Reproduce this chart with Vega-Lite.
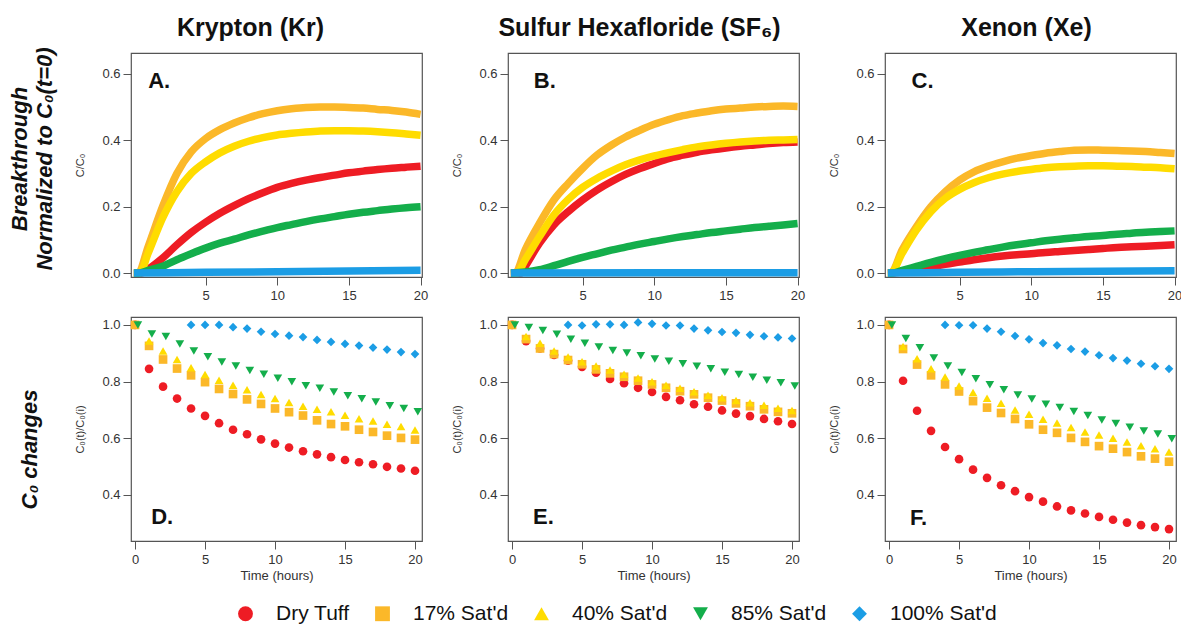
{
"$schema": "https://vega.github.io/schema/vega-lite/v6.json",
"padding": {"left": 9, "top": 15, "right": 0, "bottom": 5},
"background": "white",
"datasets": {
"top": [
{"g":"Kr","s":"Dry Tuff","t":0,"v":0},{"g":"Kr","s":"Dry Tuff","t":0.5,"v":0},{"g":"Kr","s":"Dry Tuff","t":1,"v":0.012},{"g":"Kr","s":"Dry Tuff","t":2,"v":0.045},{"g":"Kr","s":"Dry Tuff","t":3,"v":0.085},{"g":"Kr","s":"Dry Tuff","t":4,"v":0.122},{"g":"Kr","s":"Dry Tuff","t":5,"v":0.153},{"g":"Kr","s":"Dry Tuff","t":6,"v":0.18},{"g":"Kr","s":"Dry Tuff","t":7,"v":0.203},{"g":"Kr","s":"Dry Tuff","t":8,"v":0.224},{"g":"Kr","s":"Dry Tuff","t":9,"v":0.242},{"g":"Kr","s":"Dry Tuff","t":10,"v":0.258},{"g":"Kr","s":"Dry Tuff","t":11,"v":0.27},{"g":"Kr","s":"Dry Tuff","t":12,"v":0.28},{"g":"Kr","s":"Dry Tuff","t":13,"v":0.288},{"g":"Kr","s":"Dry Tuff","t":14,"v":0.295},{"g":"Kr","s":"Dry Tuff","t":15,"v":0.302},{"g":"Kr","s":"Dry Tuff","t":16,"v":0.307},{"g":"Kr","s":"Dry Tuff","t":17,"v":0.312},{"g":"Kr","s":"Dry Tuff","t":18,"v":0.316},{"g":"Kr","s":"Dry Tuff","t":19,"v":0.319},{"g":"Kr","s":"Dry Tuff","t":20,"v":0.322},
{"g":"Kr","s":"17% Sat'd","t":0,"v":0},{"g":"Kr","s":"17% Sat'd","t":0.3,"v":0},{"g":"Kr","s":"17% Sat'd","t":1,"v":0.08},{"g":"Kr","s":"17% Sat'd","t":2,"v":0.2},{"g":"Kr","s":"17% Sat'd","t":3,"v":0.3},{"g":"Kr","s":"17% Sat'd","t":4,"v":0.365},{"g":"Kr","s":"17% Sat'd","t":5,"v":0.405},{"g":"Kr","s":"17% Sat'd","t":6,"v":0.432},{"g":"Kr","s":"17% Sat'd","t":7,"v":0.452},{"g":"Kr","s":"17% Sat'd","t":8,"v":0.468},{"g":"Kr","s":"17% Sat'd","t":9,"v":0.48},{"g":"Kr","s":"17% Sat'd","t":10,"v":0.489},{"g":"Kr","s":"17% Sat'd","t":11,"v":0.495},{"g":"Kr","s":"17% Sat'd","t":12,"v":0.499},{"g":"Kr","s":"17% Sat'd","t":13,"v":0.5},{"g":"Kr","s":"17% Sat'd","t":14,"v":0.5},{"g":"Kr","s":"17% Sat'd","t":15,"v":0.499},{"g":"Kr","s":"17% Sat'd","t":16,"v":0.497},{"g":"Kr","s":"17% Sat'd","t":17,"v":0.493},{"g":"Kr","s":"17% Sat'd","t":18,"v":0.49},{"g":"Kr","s":"17% Sat'd","t":19,"v":0.485},{"g":"Kr","s":"17% Sat'd","t":20,"v":0.478},
{"g":"Kr","s":"40% Sat'd","t":0,"v":0},{"g":"Kr","s":"40% Sat'd","t":0.4,"v":0},{"g":"Kr","s":"40% Sat'd","t":1,"v":0.06},{"g":"Kr","s":"40% Sat'd","t":2,"v":0.165},{"g":"Kr","s":"40% Sat'd","t":3,"v":0.245},{"g":"Kr","s":"40% Sat'd","t":4,"v":0.3},{"g":"Kr","s":"40% Sat'd","t":5,"v":0.335},{"g":"Kr","s":"40% Sat'd","t":6,"v":0.362},{"g":"Kr","s":"40% Sat'd","t":7,"v":0.382},{"g":"Kr","s":"40% Sat'd","t":8,"v":0.397},{"g":"Kr","s":"40% Sat'd","t":9,"v":0.408},{"g":"Kr","s":"40% Sat'd","t":10,"v":0.416},{"g":"Kr","s":"40% Sat'd","t":11,"v":0.421},{"g":"Kr","s":"40% Sat'd","t":12,"v":0.425},{"g":"Kr","s":"40% Sat'd","t":13,"v":0.428},{"g":"Kr","s":"40% Sat'd","t":14,"v":0.429},{"g":"Kr","s":"40% Sat'd","t":15,"v":0.429},{"g":"Kr","s":"40% Sat'd","t":16,"v":0.428},{"g":"Kr","s":"40% Sat'd","t":17,"v":0.426},{"g":"Kr","s":"40% Sat'd","t":18,"v":0.423},{"g":"Kr","s":"40% Sat'd","t":19,"v":0.419},{"g":"Kr","s":"40% Sat'd","t":20,"v":0.415},
{"g":"Kr","s":"85% Sat'd","t":0,"v":0},{"g":"Kr","s":"85% Sat'd","t":0.3,"v":0},{"g":"Kr","s":"85% Sat'd","t":1,"v":0.008},{"g":"Kr","s":"85% Sat'd","t":2,"v":0.02},{"g":"Kr","s":"85% Sat'd","t":3,"v":0.04},{"g":"Kr","s":"85% Sat'd","t":4,"v":0.058},{"g":"Kr","s":"85% Sat'd","t":5,"v":0.075},{"g":"Kr","s":"85% Sat'd","t":6,"v":0.09},{"g":"Kr","s":"85% Sat'd","t":7,"v":0.102},{"g":"Kr","s":"85% Sat'd","t":8,"v":0.115},{"g":"Kr","s":"85% Sat'd","t":9,"v":0.126},{"g":"Kr","s":"85% Sat'd","t":10,"v":0.137},{"g":"Kr","s":"85% Sat'd","t":11,"v":0.146},{"g":"Kr","s":"85% Sat'd","t":12,"v":0.155},{"g":"Kr","s":"85% Sat'd","t":13,"v":0.163},{"g":"Kr","s":"85% Sat'd","t":14,"v":0.17},{"g":"Kr","s":"85% Sat'd","t":15,"v":0.177},{"g":"Kr","s":"85% Sat'd","t":16,"v":0.183},{"g":"Kr","s":"85% Sat'd","t":17,"v":0.188},{"g":"Kr","s":"85% Sat'd","t":18,"v":0.193},{"g":"Kr","s":"85% Sat'd","t":19,"v":0.197},{"g":"Kr","s":"85% Sat'd","t":20,"v":0.2},
{"g":"Kr","s":"100% Sat'd","t":0,"v":0},{"g":"Kr","s":"100% Sat'd","t":5,"v":0.002},{"g":"Kr","s":"100% Sat'd","t":10,"v":0.004},{"g":"Kr","s":"100% Sat'd","t":15,"v":0.006},{"g":"Kr","s":"100% Sat'd","t":20,"v":0.008},

{"g":"SF6","s":"Dry Tuff","t":0,"v":0},{"g":"SF6","s":"Dry Tuff","t":0.7,"v":0},{"g":"SF6","s":"Dry Tuff","t":1,"v":0.02},{"g":"SF6","s":"Dry Tuff","t":2,"v":0.09},{"g":"SF6","s":"Dry Tuff","t":3,"v":0.145},{"g":"SF6","s":"Dry Tuff","t":4,"v":0.185},{"g":"SF6","s":"Dry Tuff","t":5,"v":0.22},{"g":"SF6","s":"Dry Tuff","t":6,"v":0.25},{"g":"SF6","s":"Dry Tuff","t":7,"v":0.275},{"g":"SF6","s":"Dry Tuff","t":8,"v":0.297},{"g":"SF6","s":"Dry Tuff","t":9,"v":0.315},{"g":"SF6","s":"Dry Tuff","t":10,"v":0.33},{"g":"SF6","s":"Dry Tuff","t":11,"v":0.345},{"g":"SF6","s":"Dry Tuff","t":12,"v":0.355},{"g":"SF6","s":"Dry Tuff","t":13,"v":0.364},{"g":"SF6","s":"Dry Tuff","t":14,"v":0.371},{"g":"SF6","s":"Dry Tuff","t":15,"v":0.377},{"g":"SF6","s":"Dry Tuff","t":16,"v":0.382},{"g":"SF6","s":"Dry Tuff","t":17,"v":0.386},{"g":"SF6","s":"Dry Tuff","t":18,"v":0.39},{"g":"SF6","s":"Dry Tuff","t":19,"v":0.393},{"g":"SF6","s":"Dry Tuff","t":20,"v":0.395},
{"g":"SF6","s":"17% Sat'd","t":0,"v":0},{"g":"SF6","s":"17% Sat'd","t":0.3,"v":0},{"g":"SF6","s":"17% Sat'd","t":1,"v":0.07},{"g":"SF6","s":"17% Sat'd","t":2,"v":0.15},{"g":"SF6","s":"17% Sat'd","t":3,"v":0.22},{"g":"SF6","s":"17% Sat'd","t":4,"v":0.27},{"g":"SF6","s":"17% Sat'd","t":5,"v":0.315},{"g":"SF6","s":"17% Sat'd","t":6,"v":0.355},{"g":"SF6","s":"17% Sat'd","t":7,"v":0.385},{"g":"SF6","s":"17% Sat'd","t":8,"v":0.41},{"g":"SF6","s":"17% Sat'd","t":9,"v":0.43},{"g":"SF6","s":"17% Sat'd","t":10,"v":0.448},{"g":"SF6","s":"17% Sat'd","t":11,"v":0.462},{"g":"SF6","s":"17% Sat'd","t":12,"v":0.474},{"g":"SF6","s":"17% Sat'd","t":13,"v":0.482},{"g":"SF6","s":"17% Sat'd","t":14,"v":0.489},{"g":"SF6","s":"17% Sat'd","t":15,"v":0.494},{"g":"SF6","s":"17% Sat'd","t":16,"v":0.497},{"g":"SF6","s":"17% Sat'd","t":17,"v":0.5},{"g":"SF6","s":"17% Sat'd","t":18,"v":0.502},{"g":"SF6","s":"17% Sat'd","t":19,"v":0.503},{"g":"SF6","s":"17% Sat'd","t":20,"v":0.502},
{"g":"SF6","s":"40% Sat'd","t":0,"v":0},{"g":"SF6","s":"40% Sat'd","t":0.4,"v":0},{"g":"SF6","s":"40% Sat'd","t":1,"v":0.04},{"g":"SF6","s":"40% Sat'd","t":2,"v":0.11},{"g":"SF6","s":"40% Sat'd","t":3,"v":0.175},{"g":"SF6","s":"40% Sat'd","t":4,"v":0.222},{"g":"SF6","s":"40% Sat'd","t":5,"v":0.258},{"g":"SF6","s":"40% Sat'd","t":6,"v":0.285},{"g":"SF6","s":"40% Sat'd","t":7,"v":0.307},{"g":"SF6","s":"40% Sat'd","t":8,"v":0.326},{"g":"SF6","s":"40% Sat'd","t":9,"v":0.341},{"g":"SF6","s":"40% Sat'd","t":10,"v":0.353},{"g":"SF6","s":"40% Sat'd","t":11,"v":0.363},{"g":"SF6","s":"40% Sat'd","t":12,"v":0.372},{"g":"SF6","s":"40% Sat'd","t":13,"v":0.38},{"g":"SF6","s":"40% Sat'd","t":14,"v":0.386},{"g":"SF6","s":"40% Sat'd","t":15,"v":0.391},{"g":"SF6","s":"40% Sat'd","t":16,"v":0.395},{"g":"SF6","s":"40% Sat'd","t":17,"v":0.398},{"g":"SF6","s":"40% Sat'd","t":18,"v":0.4},{"g":"SF6","s":"40% Sat'd","t":19,"v":0.401},{"g":"SF6","s":"40% Sat'd","t":20,"v":0.402},
{"g":"SF6","s":"85% Sat'd","t":0,"v":0},{"g":"SF6","s":"85% Sat'd","t":1,"v":0.003},{"g":"SF6","s":"85% Sat'd","t":2,"v":0.01},{"g":"SF6","s":"85% Sat'd","t":3,"v":0.022},{"g":"SF6","s":"85% Sat'd","t":4,"v":0.035},{"g":"SF6","s":"85% Sat'd","t":5,"v":0.047},{"g":"SF6","s":"85% Sat'd","t":6,"v":0.058},{"g":"SF6","s":"85% Sat'd","t":7,"v":0.069},{"g":"SF6","s":"85% Sat'd","t":8,"v":0.078},{"g":"SF6","s":"85% Sat'd","t":9,"v":0.087},{"g":"SF6","s":"85% Sat'd","t":10,"v":0.095},{"g":"SF6","s":"85% Sat'd","t":11,"v":0.103},{"g":"SF6","s":"85% Sat'd","t":12,"v":0.11},{"g":"SF6","s":"85% Sat'd","t":13,"v":0.116},{"g":"SF6","s":"85% Sat'd","t":14,"v":0.122},{"g":"SF6","s":"85% Sat'd","t":15,"v":0.127},{"g":"SF6","s":"85% Sat'd","t":16,"v":0.132},{"g":"SF6","s":"85% Sat'd","t":17,"v":0.137},{"g":"SF6","s":"85% Sat'd","t":18,"v":0.141},{"g":"SF6","s":"85% Sat'd","t":19,"v":0.145},{"g":"SF6","s":"85% Sat'd","t":20,"v":0.149},
{"g":"SF6","s":"100% Sat'd","t":0,"v":0},{"g":"SF6","s":"100% Sat'd","t":10,"v":0.001},{"g":"SF6","s":"100% Sat'd","t":20,"v":0.001},

{"g":"Xe","s":"Dry Tuff","t":0,"v":0},{"g":"Xe","s":"Dry Tuff","t":1,"v":0.003},{"g":"Xe","s":"Dry Tuff","t":2,"v":0.01},{"g":"Xe","s":"Dry Tuff","t":3,"v":0.018},{"g":"Xe","s":"Dry Tuff","t":4,"v":0.026},{"g":"Xe","s":"Dry Tuff","t":5,"v":0.033},{"g":"Xe","s":"Dry Tuff","t":6,"v":0.04},{"g":"Xe","s":"Dry Tuff","t":7,"v":0.046},{"g":"Xe","s":"Dry Tuff","t":8,"v":0.051},{"g":"Xe","s":"Dry Tuff","t":9,"v":0.055},{"g":"Xe","s":"Dry Tuff","t":10,"v":0.058},{"g":"Xe","s":"Dry Tuff","t":11,"v":0.062},{"g":"Xe","s":"Dry Tuff","t":12,"v":0.065},{"g":"Xe","s":"Dry Tuff","t":13,"v":0.068},{"g":"Xe","s":"Dry Tuff","t":14,"v":0.071},{"g":"Xe","s":"Dry Tuff","t":15,"v":0.074},{"g":"Xe","s":"Dry Tuff","t":16,"v":0.077},{"g":"Xe","s":"Dry Tuff","t":17,"v":0.079},{"g":"Xe","s":"Dry Tuff","t":18,"v":0.081},{"g":"Xe","s":"Dry Tuff","t":19,"v":0.083},{"g":"Xe","s":"Dry Tuff","t":20,"v":0.085},
{"g":"Xe","s":"17% Sat'd","t":0,"v":0},{"g":"Xe","s":"17% Sat'd","t":0.2,"v":0},{"g":"Xe","s":"17% Sat'd","t":1,"v":0.07},{"g":"Xe","s":"17% Sat'd","t":2,"v":0.14},{"g":"Xe","s":"17% Sat'd","t":3,"v":0.2},{"g":"Xe","s":"17% Sat'd","t":4,"v":0.245},{"g":"Xe","s":"17% Sat'd","t":5,"v":0.28},{"g":"Xe","s":"17% Sat'd","t":6,"v":0.305},{"g":"Xe","s":"17% Sat'd","t":7,"v":0.322},{"g":"Xe","s":"17% Sat'd","t":8,"v":0.335},{"g":"Xe","s":"17% Sat'd","t":9,"v":0.346},{"g":"Xe","s":"17% Sat'd","t":10,"v":0.354},{"g":"Xe","s":"17% Sat'd","t":11,"v":0.361},{"g":"Xe","s":"17% Sat'd","t":12,"v":0.366},{"g":"Xe","s":"17% Sat'd","t":13,"v":0.37},{"g":"Xe","s":"17% Sat'd","t":14,"v":0.371},{"g":"Xe","s":"17% Sat'd","t":15,"v":0.37},{"g":"Xe","s":"17% Sat'd","t":16,"v":0.369},{"g":"Xe","s":"17% Sat'd","t":17,"v":0.368},{"g":"Xe","s":"17% Sat'd","t":18,"v":0.366},{"g":"Xe","s":"17% Sat'd","t":19,"v":0.363},{"g":"Xe","s":"17% Sat'd","t":20,"v":0.36},
{"g":"Xe","s":"40% Sat'd","t":0,"v":0},{"g":"Xe","s":"40% Sat'd","t":0.2,"v":0},{"g":"Xe","s":"40% Sat'd","t":1,"v":0.06},{"g":"Xe","s":"40% Sat'd","t":2,"v":0.13},{"g":"Xe","s":"40% Sat'd","t":3,"v":0.185},{"g":"Xe","s":"40% Sat'd","t":4,"v":0.225},{"g":"Xe","s":"40% Sat'd","t":5,"v":0.252},{"g":"Xe","s":"40% Sat'd","t":6,"v":0.272},{"g":"Xe","s":"40% Sat'd","t":7,"v":0.287},{"g":"Xe","s":"40% Sat'd","t":8,"v":0.298},{"g":"Xe","s":"40% Sat'd","t":9,"v":0.306},{"g":"Xe","s":"40% Sat'd","t":10,"v":0.312},{"g":"Xe","s":"40% Sat'd","t":11,"v":0.317},{"g":"Xe","s":"40% Sat'd","t":12,"v":0.32},{"g":"Xe","s":"40% Sat'd","t":13,"v":0.322},{"g":"Xe","s":"40% Sat'd","t":14,"v":0.323},{"g":"Xe","s":"40% Sat'd","t":15,"v":0.323},{"g":"Xe","s":"40% Sat'd","t":16,"v":0.322},{"g":"Xe","s":"40% Sat'd","t":17,"v":0.321},{"g":"Xe","s":"40% Sat'd","t":18,"v":0.319},{"g":"Xe","s":"40% Sat'd","t":19,"v":0.317},{"g":"Xe","s":"40% Sat'd","t":20,"v":0.314},
{"g":"Xe","s":"85% Sat'd","t":0,"v":0},{"g":"Xe","s":"85% Sat'd","t":0.3,"v":0},{"g":"Xe","s":"85% Sat'd","t":1,"v":0.008},{"g":"Xe","s":"85% Sat'd","t":2,"v":0.02},{"g":"Xe","s":"85% Sat'd","t":3,"v":0.032},{"g":"Xe","s":"85% Sat'd","t":4,"v":0.043},{"g":"Xe","s":"85% Sat'd","t":5,"v":0.053},{"g":"Xe","s":"85% Sat'd","t":6,"v":0.062},{"g":"Xe","s":"85% Sat'd","t":7,"v":0.07},{"g":"Xe","s":"85% Sat'd","t":8,"v":0.078},{"g":"Xe","s":"85% Sat'd","t":9,"v":0.085},{"g":"Xe","s":"85% Sat'd","t":10,"v":0.091},{"g":"Xe","s":"85% Sat'd","t":11,"v":0.097},{"g":"Xe","s":"85% Sat'd","t":12,"v":0.102},{"g":"Xe","s":"85% Sat'd","t":13,"v":0.106},{"g":"Xe","s":"85% Sat'd","t":14,"v":0.11},{"g":"Xe","s":"85% Sat'd","t":15,"v":0.113},{"g":"Xe","s":"85% Sat'd","t":16,"v":0.117},{"g":"Xe","s":"85% Sat'd","t":17,"v":0.12},{"g":"Xe","s":"85% Sat'd","t":18,"v":0.123},{"g":"Xe","s":"85% Sat'd","t":19,"v":0.125},{"g":"Xe","s":"85% Sat'd","t":20,"v":0.127},
{"g":"Xe","s":"100% Sat'd","t":0,"v":0},{"g":"Xe","s":"100% Sat'd","t":5,"v":0.002},{"g":"Xe","s":"100% Sat'd","t":10,"v":0.004},{"g":"Xe","s":"100% Sat'd","t":15,"v":0.005},{"g":"Xe","s":"100% Sat'd","t":20,"v":0.007}
],
"bot": [
{"g":"Kr","s":"Dry Tuff","t":0,"v":1.0},{"g":"Kr","s":"Dry Tuff","t":1,"v":0.845},{"g":"Kr","s":"Dry Tuff","t":2,"v":0.782},{"g":"Kr","s":"Dry Tuff","t":3,"v":0.74},{"g":"Kr","s":"Dry Tuff","t":4,"v":0.705},{"g":"Kr","s":"Dry Tuff","t":5,"v":0.679},{"g":"Kr","s":"Dry Tuff","t":6,"v":0.653},{"g":"Kr","s":"Dry Tuff","t":7,"v":0.63},{"g":"Kr","s":"Dry Tuff","t":8,"v":0.614},{"g":"Kr","s":"Dry Tuff","t":9,"v":0.596},{"g":"Kr","s":"Dry Tuff","t":10,"v":0.581},{"g":"Kr","s":"Dry Tuff","t":11,"v":0.567},{"g":"Kr","s":"Dry Tuff","t":12,"v":0.554},{"g":"Kr","s":"Dry Tuff","t":13,"v":0.543},{"g":"Kr","s":"Dry Tuff","t":14,"v":0.533},{"g":"Kr","s":"Dry Tuff","t":15,"v":0.523},{"g":"Kr","s":"Dry Tuff","t":16,"v":0.515},{"g":"Kr","s":"Dry Tuff","t":17,"v":0.508},{"g":"Kr","s":"Dry Tuff","t":18,"v":0.499},{"g":"Kr","s":"Dry Tuff","t":19,"v":0.493},{"g":"Kr","s":"Dry Tuff","t":20,"v":0.485},
{"g":"Kr","s":"17% Sat'd","t":0,"v":1.0},{"g":"Kr","s":"17% Sat'd","t":1,"v":0.926},{"g":"Kr","s":"17% Sat'd","t":2,"v":0.878},{"g":"Kr","s":"17% Sat'd","t":3,"v":0.846},{"g":"Kr","s":"17% Sat'd","t":4,"v":0.822},{"g":"Kr","s":"17% Sat'd","t":5,"v":0.798},{"g":"Kr","s":"17% Sat'd","t":6,"v":0.774},{"g":"Kr","s":"17% Sat'd","t":7,"v":0.756},{"g":"Kr","s":"17% Sat'd","t":8,"v":0.737},{"g":"Kr","s":"17% Sat'd","t":9,"v":0.721},{"g":"Kr","s":"17% Sat'd","t":10,"v":0.705},{"g":"Kr","s":"17% Sat'd","t":11,"v":0.692},{"g":"Kr","s":"17% Sat'd","t":12,"v":0.68},{"g":"Kr","s":"17% Sat'd","t":13,"v":0.663},{"g":"Kr","s":"17% Sat'd","t":14,"v":0.65},{"g":"Kr","s":"17% Sat'd","t":15,"v":0.642},{"g":"Kr","s":"17% Sat'd","t":16,"v":0.63},{"g":"Kr","s":"17% Sat'd","t":17,"v":0.622},{"g":"Kr","s":"17% Sat'd","t":18,"v":0.609},{"g":"Kr","s":"17% Sat'd","t":19,"v":0.601},{"g":"Kr","s":"17% Sat'd","t":20,"v":0.595},
{"g":"Kr","s":"40% Sat'd","t":1,"v":0.943},{"g":"Kr","s":"40% Sat'd","t":2,"v":0.908},{"g":"Kr","s":"40% Sat'd","t":3,"v":0.878},{"g":"Kr","s":"40% Sat'd","t":4,"v":0.849},{"g":"Kr","s":"40% Sat'd","t":5,"v":0.825},{"g":"Kr","s":"40% Sat'd","t":6,"v":0.805},{"g":"Kr","s":"40% Sat'd","t":7,"v":0.787},{"g":"Kr","s":"40% Sat'd","t":8,"v":0.771},{"g":"Kr","s":"40% Sat'd","t":9,"v":0.754},{"g":"Kr","s":"40% Sat'd","t":10,"v":0.74},{"g":"Kr","s":"40% Sat'd","t":11,"v":0.726},{"g":"Kr","s":"40% Sat'd","t":12,"v":0.713},{"g":"Kr","s":"40% Sat'd","t":13,"v":0.702},{"g":"Kr","s":"40% Sat'd","t":14,"v":0.693},{"g":"Kr","s":"40% Sat'd","t":15,"v":0.681},{"g":"Kr","s":"40% Sat'd","t":16,"v":0.669},{"g":"Kr","s":"40% Sat'd","t":17,"v":0.661},{"g":"Kr","s":"40% Sat'd","t":18,"v":0.649},{"g":"Kr","s":"40% Sat'd","t":19,"v":0.641},{"g":"Kr","s":"40% Sat'd","t":20,"v":0.629},
{"g":"Kr","s":"85% Sat'd","t":0.2,"v":1.0},{"g":"Kr","s":"85% Sat'd","t":1.2,"v":0.968},{"g":"Kr","s":"85% Sat'd","t":2.2,"v":0.959},{"g":"Kr","s":"85% Sat'd","t":3.2,"v":0.933},{"g":"Kr","s":"85% Sat'd","t":4.2,"v":0.908},{"g":"Kr","s":"85% Sat'd","t":5.2,"v":0.888},{"g":"Kr","s":"85% Sat'd","t":6.2,"v":0.869},{"g":"Kr","s":"85% Sat'd","t":7.2,"v":0.855},{"g":"Kr","s":"85% Sat'd","t":8.2,"v":0.839},{"g":"Kr","s":"85% Sat'd","t":9.2,"v":0.826},{"g":"Kr","s":"85% Sat'd","t":10.2,"v":0.812},{"g":"Kr","s":"85% Sat'd","t":11.2,"v":0.799},{"g":"Kr","s":"85% Sat'd","t":12.2,"v":0.785},{"g":"Kr","s":"85% Sat'd","t":13.2,"v":0.776},{"g":"Kr","s":"85% Sat'd","t":14.2,"v":0.763},{"g":"Kr","s":"85% Sat'd","t":15.2,"v":0.75},{"g":"Kr","s":"85% Sat'd","t":16.2,"v":0.739},{"g":"Kr","s":"85% Sat'd","t":17.2,"v":0.728},{"g":"Kr","s":"85% Sat'd","t":18.2,"v":0.715},{"g":"Kr","s":"85% Sat'd","t":19.2,"v":0.705},{"g":"Kr","s":"85% Sat'd","t":20.2,"v":0.693},
{"g":"Kr","s":"100% Sat'd","t":4,"v":1.0},{"g":"Kr","s":"100% Sat'd","t":5,"v":1.0},{"g":"Kr","s":"100% Sat'd","t":6,"v":1.0},{"g":"Kr","s":"100% Sat'd","t":7,"v":0.992},{"g":"Kr","s":"100% Sat'd","t":8,"v":0.987},{"g":"Kr","s":"100% Sat'd","t":9,"v":0.976},{"g":"Kr","s":"100% Sat'd","t":10,"v":0.968},{"g":"Kr","s":"100% Sat'd","t":11,"v":0.962},{"g":"Kr","s":"100% Sat'd","t":12,"v":0.957},{"g":"Kr","s":"100% Sat'd","t":13,"v":0.947},{"g":"Kr","s":"100% Sat'd","t":14,"v":0.94},{"g":"Kr","s":"100% Sat'd","t":15,"v":0.933},{"g":"Kr","s":"100% Sat'd","t":16,"v":0.927},{"g":"Kr","s":"100% Sat'd","t":17,"v":0.92},{"g":"Kr","s":"100% Sat'd","t":18,"v":0.913},{"g":"Kr","s":"100% Sat'd","t":19,"v":0.904},{"g":"Kr","s":"100% Sat'd","t":20,"v":0.897},

{"g":"SF6","s":"Dry Tuff","t":0,"v":1.0},{"g":"SF6","s":"Dry Tuff","t":1,"v":0.943},{"g":"SF6","s":"Dry Tuff","t":2,"v":0.917},{"g":"SF6","s":"Dry Tuff","t":3,"v":0.894},{"g":"SF6","s":"Dry Tuff","t":4,"v":0.874},{"g":"SF6","s":"Dry Tuff","t":5,"v":0.852},{"g":"SF6","s":"Dry Tuff","t":6,"v":0.831},{"g":"SF6","s":"Dry Tuff","t":7,"v":0.809},{"g":"SF6","s":"Dry Tuff","t":8,"v":0.794},{"g":"SF6","s":"Dry Tuff","t":9,"v":0.778},{"g":"SF6","s":"Dry Tuff","t":10,"v":0.763},{"g":"SF6","s":"Dry Tuff","t":11,"v":0.746},{"g":"SF6","s":"Dry Tuff","t":12,"v":0.734},{"g":"SF6","s":"Dry Tuff","t":13,"v":0.72},{"g":"SF6","s":"Dry Tuff","t":14,"v":0.711},{"g":"SF6","s":"Dry Tuff","t":15,"v":0.698},{"g":"SF6","s":"Dry Tuff","t":16,"v":0.687},{"g":"SF6","s":"Dry Tuff","t":17,"v":0.678},{"g":"SF6","s":"Dry Tuff","t":18,"v":0.668},{"g":"SF6","s":"Dry Tuff","t":19,"v":0.66},{"g":"SF6","s":"Dry Tuff","t":20,"v":0.65},
{"g":"SF6","s":"17% Sat'd","t":0,"v":1.0},{"g":"SF6","s":"17% Sat'd","t":1,"v":0.95},{"g":"SF6","s":"17% Sat'd","t":2,"v":0.917},{"g":"SF6","s":"17% Sat'd","t":3,"v":0.897},{"g":"SF6","s":"17% Sat'd","t":4,"v":0.876},{"g":"SF6","s":"17% Sat'd","t":5,"v":0.861},{"g":"SF6","s":"17% Sat'd","t":6,"v":0.843},{"g":"SF6","s":"17% Sat'd","t":7,"v":0.829},{"g":"SF6","s":"17% Sat'd","t":8,"v":0.817},{"g":"SF6","s":"17% Sat'd","t":9,"v":0.803},{"g":"SF6","s":"17% Sat'd","t":10,"v":0.79},{"g":"SF6","s":"17% Sat'd","t":11,"v":0.778},{"g":"SF6","s":"17% Sat'd","t":12,"v":0.766},{"g":"SF6","s":"17% Sat'd","t":13,"v":0.755},{"g":"SF6","s":"17% Sat'd","t":14,"v":0.743},{"g":"SF6","s":"17% Sat'd","t":15,"v":0.733},{"g":"SF6","s":"17% Sat'd","t":16,"v":0.723},{"g":"SF6","s":"17% Sat'd","t":17,"v":0.713},{"g":"SF6","s":"17% Sat'd","t":18,"v":0.702},{"g":"SF6","s":"17% Sat'd","t":19,"v":0.693},{"g":"SF6","s":"17% Sat'd","t":20,"v":0.688},
{"g":"SF6","s":"40% Sat'd","t":1,"v":0.959},{"g":"SF6","s":"40% Sat'd","t":2,"v":0.935},{"g":"SF6","s":"40% Sat'd","t":3,"v":0.908},{"g":"SF6","s":"40% Sat'd","t":4,"v":0.887},{"g":"SF6","s":"40% Sat'd","t":5,"v":0.87},{"g":"SF6","s":"40% Sat'd","t":6,"v":0.855},{"g":"SF6","s":"40% Sat'd","t":7,"v":0.841},{"g":"SF6","s":"40% Sat'd","t":8,"v":0.826},{"g":"SF6","s":"40% Sat'd","t":9,"v":0.813},{"g":"SF6","s":"40% Sat'd","t":10,"v":0.799},{"g":"SF6","s":"40% Sat'd","t":11,"v":0.787},{"g":"SF6","s":"40% Sat'd","t":12,"v":0.776},{"g":"SF6","s":"40% Sat'd","t":13,"v":0.764},{"g":"SF6","s":"40% Sat'd","t":14,"v":0.752},{"g":"SF6","s":"40% Sat'd","t":15,"v":0.743},{"g":"SF6","s":"40% Sat'd","t":16,"v":0.733},{"g":"SF6","s":"40% Sat'd","t":17,"v":0.725},{"g":"SF6","s":"40% Sat'd","t":18,"v":0.716},{"g":"SF6","s":"40% Sat'd","t":19,"v":0.706},{"g":"SF6","s":"40% Sat'd","t":20,"v":0.698},
{"g":"SF6","s":"85% Sat'd","t":0.2,"v":1.0},{"g":"SF6","s":"85% Sat'd","t":1.2,"v":0.991},{"g":"SF6","s":"85% Sat'd","t":2.2,"v":0.98},{"g":"SF6","s":"85% Sat'd","t":3.2,"v":0.967},{"g":"SF6","s":"85% Sat'd","t":4.2,"v":0.949},{"g":"SF6","s":"85% Sat'd","t":5.2,"v":0.935},{"g":"SF6","s":"85% Sat'd","t":6.2,"v":0.922},{"g":"SF6","s":"85% Sat'd","t":7.2,"v":0.91},{"g":"SF6","s":"85% Sat'd","t":8.2,"v":0.901},{"g":"SF6","s":"85% Sat'd","t":9.2,"v":0.891},{"g":"SF6","s":"85% Sat'd","t":10.2,"v":0.88},{"g":"SF6","s":"85% Sat'd","t":11.2,"v":0.872},{"g":"SF6","s":"85% Sat'd","t":12.2,"v":0.863},{"g":"SF6","s":"85% Sat'd","t":13.2,"v":0.854},{"g":"SF6","s":"85% Sat'd","t":14.2,"v":0.845},{"g":"SF6","s":"85% Sat'd","t":15.2,"v":0.833},{"g":"SF6","s":"85% Sat'd","t":16.2,"v":0.825},{"g":"SF6","s":"85% Sat'd","t":17.2,"v":0.815},{"g":"SF6","s":"85% Sat'd","t":18.2,"v":0.805},{"g":"SF6","s":"85% Sat'd","t":19.2,"v":0.796},{"g":"SF6","s":"85% Sat'd","t":20.2,"v":0.784},
{"g":"SF6","s":"100% Sat'd","t":4,"v":1.0},{"g":"SF6","s":"100% Sat'd","t":5,"v":0.998},{"g":"SF6","s":"100% Sat'd","t":6,"v":1.002},{"g":"SF6","s":"100% Sat'd","t":7,"v":1.002},{"g":"SF6","s":"100% Sat'd","t":8,"v":1.0},{"g":"SF6","s":"100% Sat'd","t":9,"v":1.009},{"g":"SF6","s":"100% Sat'd","t":10,"v":1.004},{"g":"SF6","s":"100% Sat'd","t":11,"v":0.998},{"g":"SF6","s":"100% Sat'd","t":12,"v":0.998},{"g":"SF6","s":"100% Sat'd","t":13,"v":0.987},{"g":"SF6","s":"100% Sat'd","t":14,"v":0.981},{"g":"SF6","s":"100% Sat'd","t":15,"v":0.975},{"g":"SF6","s":"100% Sat'd","t":16,"v":0.972},{"g":"SF6","s":"100% Sat'd","t":17,"v":0.965},{"g":"SF6","s":"100% Sat'd","t":18,"v":0.96},{"g":"SF6","s":"100% Sat'd","t":19,"v":0.956},{"g":"SF6","s":"100% Sat'd","t":20,"v":0.952},

{"g":"Xe","s":"Dry Tuff","t":0,"v":1.0},{"g":"Xe","s":"Dry Tuff","t":1,"v":0.803},{"g":"Xe","s":"Dry Tuff","t":2,"v":0.697},{"g":"Xe","s":"Dry Tuff","t":3,"v":0.626},{"g":"Xe","s":"Dry Tuff","t":4,"v":0.569},{"g":"Xe","s":"Dry Tuff","t":5,"v":0.526},{"g":"Xe","s":"Dry Tuff","t":6,"v":0.489},{"g":"Xe","s":"Dry Tuff","t":7,"v":0.46},{"g":"Xe","s":"Dry Tuff","t":8,"v":0.434},{"g":"Xe","s":"Dry Tuff","t":9,"v":0.413},{"g":"Xe","s":"Dry Tuff","t":10,"v":0.392},{"g":"Xe","s":"Dry Tuff","t":11,"v":0.376},{"g":"Xe","s":"Dry Tuff","t":12,"v":0.359},{"g":"Xe","s":"Dry Tuff","t":13,"v":0.345},{"g":"Xe","s":"Dry Tuff","t":14,"v":0.334},{"g":"Xe","s":"Dry Tuff","t":15,"v":0.322},{"g":"Xe","s":"Dry Tuff","t":16,"v":0.312},{"g":"Xe","s":"Dry Tuff","t":17,"v":0.302},{"g":"Xe","s":"Dry Tuff","t":18,"v":0.293},{"g":"Xe","s":"Dry Tuff","t":19,"v":0.286},{"g":"Xe","s":"Dry Tuff","t":20,"v":0.279},
{"g":"Xe","s":"17% Sat'd","t":0,"v":1.0},{"g":"Xe","s":"17% Sat'd","t":1,"v":0.915},{"g":"Xe","s":"17% Sat'd","t":2,"v":0.86},{"g":"Xe","s":"17% Sat'd","t":3,"v":0.822},{"g":"Xe","s":"17% Sat'd","t":4,"v":0.79},{"g":"Xe","s":"17% Sat'd","t":5,"v":0.765},{"g":"Xe","s":"17% Sat'd","t":6,"v":0.731},{"g":"Xe","s":"17% Sat'd","t":7,"v":0.708},{"g":"Xe","s":"17% Sat'd","t":8,"v":0.689},{"g":"Xe","s":"17% Sat'd","t":9,"v":0.668},{"g":"Xe","s":"17% Sat'd","t":10,"v":0.649},{"g":"Xe","s":"17% Sat'd","t":11,"v":0.63},{"g":"Xe","s":"17% Sat'd","t":12,"v":0.619},{"g":"Xe","s":"17% Sat'd","t":13,"v":0.601},{"g":"Xe","s":"17% Sat'd","t":14,"v":0.587},{"g":"Xe","s":"17% Sat'd","t":15,"v":0.572},{"g":"Xe","s":"17% Sat'd","t":16,"v":0.563},{"g":"Xe","s":"17% Sat'd","t":17,"v":0.551},{"g":"Xe","s":"17% Sat'd","t":18,"v":0.536},{"g":"Xe","s":"17% Sat'd","t":19,"v":0.528},{"g":"Xe","s":"17% Sat'd","t":20,"v":0.517},
{"g":"Xe","s":"40% Sat'd","t":1,"v":0.924},{"g":"Xe","s":"40% Sat'd","t":2,"v":0.881},{"g":"Xe","s":"40% Sat'd","t":3,"v":0.845},{"g":"Xe","s":"40% Sat'd","t":4,"v":0.816},{"g":"Xe","s":"40% Sat'd","t":5,"v":0.784},{"g":"Xe","s":"40% Sat'd","t":6,"v":0.761},{"g":"Xe","s":"40% Sat'd","t":7,"v":0.741},{"g":"Xe","s":"40% Sat'd","t":8,"v":0.723},{"g":"Xe","s":"40% Sat'd","t":9,"v":0.7},{"g":"Xe","s":"40% Sat'd","t":10,"v":0.685},{"g":"Xe","s":"40% Sat'd","t":11,"v":0.667},{"g":"Xe","s":"40% Sat'd","t":12,"v":0.654},{"g":"Xe","s":"40% Sat'd","t":13,"v":0.638},{"g":"Xe","s":"40% Sat'd","t":14,"v":0.622},{"g":"Xe","s":"40% Sat'd","t":15,"v":0.611},{"g":"Xe","s":"40% Sat'd","t":16,"v":0.6},{"g":"Xe","s":"40% Sat'd","t":17,"v":0.587},{"g":"Xe","s":"40% Sat'd","t":18,"v":0.573},{"g":"Xe","s":"40% Sat'd","t":19,"v":0.563},{"g":"Xe","s":"40% Sat'd","t":20,"v":0.551},
{"g":"Xe","s":"85% Sat'd","t":0.2,"v":1.0},{"g":"Xe","s":"85% Sat'd","t":1.2,"v":0.952},{"g":"Xe","s":"85% Sat'd","t":2.2,"v":0.919},{"g":"Xe","s":"85% Sat'd","t":3.2,"v":0.883},{"g":"Xe","s":"85% Sat'd","t":4.2,"v":0.855},{"g":"Xe","s":"85% Sat'd","t":5.2,"v":0.832},{"g":"Xe","s":"85% Sat'd","t":6.2,"v":0.81},{"g":"Xe","s":"85% Sat'd","t":7.2,"v":0.789},{"g":"Xe","s":"85% Sat'd","t":8.2,"v":0.771},{"g":"Xe","s":"85% Sat'd","t":9.2,"v":0.753},{"g":"Xe","s":"85% Sat'd","t":10.2,"v":0.738},{"g":"Xe","s":"85% Sat'd","t":11.2,"v":0.72},{"g":"Xe","s":"85% Sat'd","t":12.2,"v":0.708},{"g":"Xe","s":"85% Sat'd","t":13.2,"v":0.694},{"g":"Xe","s":"85% Sat'd","t":14.2,"v":0.68},{"g":"Xe","s":"85% Sat'd","t":15.2,"v":0.664},{"g":"Xe","s":"85% Sat'd","t":16.2,"v":0.652},{"g":"Xe","s":"85% Sat'd","t":17.2,"v":0.639},{"g":"Xe","s":"85% Sat'd","t":18.2,"v":0.625},{"g":"Xe","s":"85% Sat'd","t":19.2,"v":0.615},{"g":"Xe","s":"85% Sat'd","t":20.2,"v":0.598},
{"g":"Xe","s":"100% Sat'd","t":4,"v":1.0},{"g":"Xe","s":"100% Sat'd","t":5,"v":0.999},{"g":"Xe","s":"100% Sat'd","t":6,"v":0.999},{"g":"Xe","s":"100% Sat'd","t":7,"v":0.987},{"g":"Xe","s":"100% Sat'd","t":8,"v":0.976},{"g":"Xe","s":"100% Sat'd","t":9,"v":0.961},{"g":"Xe","s":"100% Sat'd","t":10,"v":0.949},{"g":"Xe","s":"100% Sat'd","t":11,"v":0.936},{"g":"Xe","s":"100% Sat'd","t":12,"v":0.928},{"g":"Xe","s":"100% Sat'd","t":13,"v":0.915},{"g":"Xe","s":"100% Sat'd","t":14,"v":0.906},{"g":"Xe","s":"100% Sat'd","t":15,"v":0.893},{"g":"Xe","s":"100% Sat'd","t":16,"v":0.883},{"g":"Xe","s":"100% Sat'd","t":17,"v":0.874},{"g":"Xe","s":"100% Sat'd","t":18,"v":0.863},{"g":"Xe","s":"100% Sat'd","t":19,"v":0.854},{"g":"Xe","s":"100% Sat'd","t":20,"v":0.845}
]
},
"vconcat": [
{
"title": {"text": ["Breakthrough", "Normalized to C₀(t=0)"], "orient": "left", "anchor": "middle", "fontSize": 22, "fontStyle": "italic", "fontWeight": "bold", "lineHeight": 25, "offset": 17},
"bounds": "flush",
"spacing": 86,
"hconcat": [
{"width": 291, "height": 224, "title": {"text": "Krypton (Kr)", "dx": -26},
 "layer": [
 {"data": {"name": "top"}, "transform": [{"filter": "datum.g === 'Kr'"}],
  "mark": {"type": "line", "strokeWidth": 7.5, "interpolate": "monotone", "clip": true},
  "encoding": {
   "x": {"field": "t", "type": "quantitative", "scale": {"domain": [-0.2, 20.1], "nice": false, "zero": false}, "axis": {"values": [5, 10, 15, 20], "title": null}},
   "y": {"field": "v", "type": "quantitative", "scale": {"domain": [-0.012, 0.663], "nice": false, "zero": false}, "axis": {"values": [0, 0.1, 0.2, 0.3, 0.4, 0.5, 0.6], "format": ".1f", "title": "C/C₀"}},
   "color": {"field": "s", "type": "nominal", "legend": {"title": "\u00a0", "titleOrient": "left", "titlePadding": 104, "titleFontSize": 4}, "scale": {"domain": ["Dry Tuff", "17% Sat'd", "40% Sat'd", "85% Sat'd", "100% Sat'd"], "range": ["#ee1c24", "#fbb829", "#ffdc00", "#14ae4b", "#1b9de5"]}}}},
 {"data": {"values": [{}]}, "mark": {"type": "text", "text": "A.", "align": "left", "baseline": "middle", "fontSize": 22, "fontWeight": "bold", "font": "Liberation Sans", "color": "#111"},
  "encoding": {"x": {"datum": 1.0}, "y": {"datum": 0.58}}}
 ]},
{"width": 291, "height": 224, "title": {"text": "Sulfur Hexafloride (SF₆)", "dx": -14},
 "layer": [
 {"data": {"name": "top"}, "transform": [{"filter": "datum.g === 'SF6'"}],
  "mark": {"type": "line", "strokeWidth": 7.5, "interpolate": "monotone", "clip": true},
  "encoding": {
   "x": {"field": "t", "type": "quantitative", "scale": {"domain": [-0.2, 20.1], "nice": false, "zero": false}, "axis": {"values": [5, 10, 15, 20], "title": null}},
   "y": {"field": "v", "type": "quantitative", "scale": {"domain": [-0.012, 0.663], "nice": false, "zero": false}, "axis": {"values": [0, 0.1, 0.2, 0.3, 0.4, 0.5, 0.6], "format": ".1f", "title": "C/C₀"}},
   "color": {"field": "s", "type": "nominal", "legend": {"title": "\u00a0", "titleOrient": "left", "titlePadding": 104, "titleFontSize": 4}}}},
 {"data": {"values": [{}]}, "mark": {"type": "text", "text": "B.", "align": "left", "baseline": "middle", "fontSize": 22, "fontWeight": "bold", "font": "Liberation Sans", "color": "#111"},
  "encoding": {"x": {"datum": 1.6}, "y": {"datum": 0.58}}}
 ]},
{"width": 291, "height": 224, "title": {"text": "Xenon (Xe)", "dx": -4},
 "layer": [
 {"data": {"name": "top"}, "transform": [{"filter": "datum.g === 'Xe'"}],
  "mark": {"type": "line", "strokeWidth": 7.5, "interpolate": "monotone", "clip": true},
  "encoding": {
   "x": {"field": "t", "type": "quantitative", "scale": {"domain": [-0.2, 20.1], "nice": false, "zero": false}, "axis": {"values": [5, 10, 15, 20], "title": null}},
   "y": {"field": "v", "type": "quantitative", "scale": {"domain": [-0.012, 0.663], "nice": false, "zero": false}, "axis": {"values": [0, 0.1, 0.2, 0.3, 0.4, 0.5, 0.6], "format": ".1f", "title": "C/C₀"}},
   "color": {"field": "s", "type": "nominal", "legend": {"title": "\u00a0", "titleOrient": "left", "titlePadding": 104, "titleFontSize": 4}}}},
 {"data": {"values": [{}]}, "mark": {"type": "text", "text": "C.", "align": "left", "baseline": "middle", "fontSize": 22, "fontWeight": "bold", "font": "Liberation Sans", "color": "#111"},
  "encoding": {"x": {"datum": 1.65}, "y": {"datum": 0.58}}}
 ]}
]
},
{
"title": {"text": "C₀ changes", "orient": "left", "anchor": "middle", "fontSize": 22, "fontStyle": "italic", "fontWeight": "bold", "offset": 32},
"bounds": "flush",
"spacing": 86,
"hconcat": [
{"width": 291, "height": 224,
 "layer": [
 {"data": {"name": "bot"}, "transform": [{"filter": "datum.g === 'Kr'"}],
  "mark": {"type": "point", "filled": true, "size": 75, "opacity": 1},
  "encoding": {
   "x": {"field": "t", "type": "quantitative", "scale": {"domain": [-0.29, 20.5], "nice": false, "zero": false}, "axis": {"values": [0, 5, 10, 15, 20], "title": "Time (hours)"}},
   "y": {"field": "v", "type": "quantitative", "scale": {"domain": [0.237, 1.028], "nice": false, "zero": false}, "axis": {"values": [0.4, 0.6, 0.8, 1.0], "format": ".1f", "title": "C₀(t)/C₀(i)"}},
   "color": {"field": "s", "type": "nominal", "legend": {"title": "\u00a0", "titleOrient": "left", "titlePadding": 104, "titleFontSize": 4}},
   "shape": {"field": "s", "type": "nominal", "legend": {"title": "\u00a0", "titleOrient": "left", "titlePadding": 104, "titleFontSize": 4}, "scale": {"domain": ["Dry Tuff", "17% Sat'd", "40% Sat'd", "85% Sat'd", "100% Sat'd"], "range": ["circle", "square", "triangle-up", "triangle-down", "diamond"]}}}},
 {"data": {"values": [{}]}, "mark": {"type": "text", "text": "D.", "align": "left", "baseline": "middle", "fontSize": 22, "fontWeight": "bold", "font": "Liberation Sans", "color": "#111"},
  "encoding": {"x": {"datum": 1.15}, "y": {"datum": 0.32}}}
 ]},
{"width": 291, "height": 224,
 "layer": [
 {"data": {"name": "bot"}, "transform": [{"filter": "datum.g === 'SF6'"}],
  "mark": {"type": "point", "filled": true, "size": 75, "opacity": 1},
  "encoding": {
   "x": {"field": "t", "type": "quantitative", "scale": {"domain": [-0.29, 20.5], "nice": false, "zero": false}, "axis": {"values": [0, 5, 10, 15, 20], "title": "Time (hours)"}},
   "y": {"field": "v", "type": "quantitative", "scale": {"domain": [0.237, 1.028], "nice": false, "zero": false}, "axis": {"values": [0.4, 0.6, 0.8, 1.0], "format": ".1f", "title": "C₀(t)/C₀(i)"}},
   "color": {"field": "s", "type": "nominal", "legend": {"title": "\u00a0", "titleOrient": "left", "titlePadding": 104, "titleFontSize": 4}},
   "shape": {"field": "s", "type": "nominal", "legend": {"title": "\u00a0", "titleOrient": "left", "titlePadding": 104, "titleFontSize": 4}}}},
 {"data": {"values": [{}]}, "mark": {"type": "text", "text": "E.", "align": "left", "baseline": "middle", "fontSize": 22, "fontWeight": "bold", "font": "Liberation Sans", "color": "#111"},
  "encoding": {"x": {"datum": 1.5}, "y": {"datum": 0.32}}}
 ]},
{"width": 291, "height": 224,
 "layer": [
 {"data": {"name": "bot"}, "transform": [{"filter": "datum.g === 'Xe'"}],
  "mark": {"type": "point", "filled": true, "size": 75, "opacity": 1},
  "encoding": {
   "x": {"field": "t", "type": "quantitative", "scale": {"domain": [-0.29, 20.5], "nice": false, "zero": false}, "axis": {"values": [0, 5, 10, 15, 20], "title": "Time (hours)"}},
   "y": {"field": "v", "type": "quantitative", "scale": {"domain": [0.237, 1.028], "nice": false, "zero": false}, "axis": {"values": [0.4, 0.6, 0.8, 1.0], "format": ".1f", "title": "C₀(t)/C₀(i)"}},
   "color": {"field": "s", "type": "nominal", "legend": {"title": "\u00a0", "titleOrient": "left", "titlePadding": 104, "titleFontSize": 4}},
   "shape": {"field": "s", "type": "nominal", "legend": {"title": "\u00a0", "titleOrient": "left", "titlePadding": 104, "titleFontSize": 4}}}},
 {"data": {"values": [{}]}, "mark": {"type": "text", "text": "F.", "align": "left", "baseline": "middle", "fontSize": 22, "fontWeight": "bold", "font": "Liberation Sans", "color": "#111"},
  "encoding": {"x": {"datum": 1.5}, "y": {"datum": 0.317}}}
 ]}
]
}
],
"spacing": 13,
"resolve": {"scale": {"color": "shared", "shape": "shared"}},
"config": {
 "font": "Liberation Sans",
 "view": {"stroke": "#555", "strokeWidth": 1.2},
 "axis": {"labelFont": "Liberation Sans", "labelFontSize": 13, "labelColor": "#333", "tickColor": "#555", "tickSize": 8, "domain": false, "grid": false, "titleFont": "Liberation Sans", "titleFontWeight": "normal", "titleColor": "#333", "titleFontSize": 11, "labelPadding": 3},
 "axisY": {"titlePadding": 16},
 "axisX": {"titlePadding": 3, "titleFontSize": 13, "labelPadding": 4},
 "title": {"font": "Liberation Sans", "fontSize": 25, "fontWeight": "bold", "color": "#111", "offset": 12},
 "legend": {"orient": "bottom", "direction": "horizontal", "padding": 0, "offset": 20, "labelFont": "Liberation Sans", "labelFontSize": 21, "labelColor": "#111", "symbolSize": 220, "labelOffset": 20, "columnPadding": 22, "symbolStrokeWidth": 0, "symbolType": "circle"}
}
}
